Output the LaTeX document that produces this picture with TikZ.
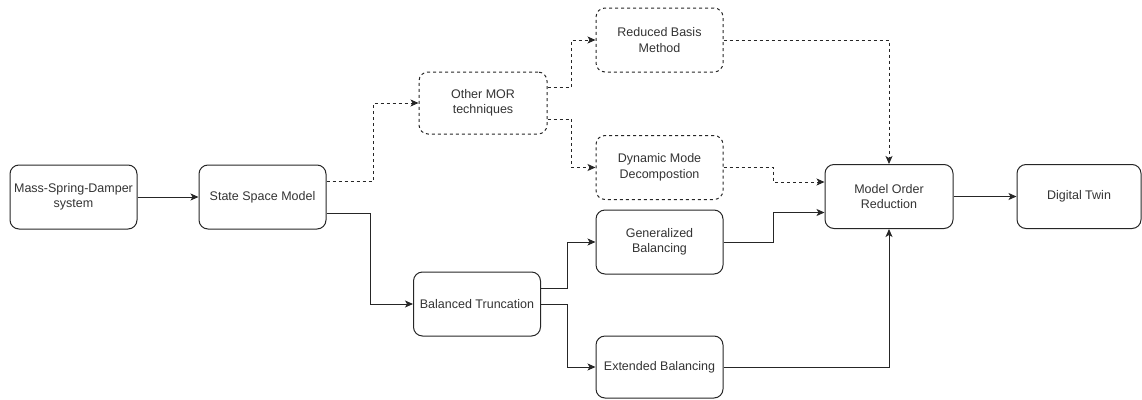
\documentclass[tikz,border=0pt]{standalone}
\usepackage{fontspec}
\setmainfont{Liberation Sans}
\usetikzlibrary{arrows.meta}
\begin{document}
\begin{tikzpicture}[x=1pt,y=-1pt,
  box/.style={draw=black!85, line width=1pt, rounded corners=9pt, minimum width=127pt, minimum height=64pt,
    align=center, inner sep=2pt, font=\fontsize{12.5}{15.5}\selectfont, text=black!80},
  dbox/.style={box, dash pattern=on 3pt off 3pt},
  ln/.style={draw=black!85, line width=1pt, -{Stealth[length=8pt,width=7pt,inset=2pt]}},
  dl/.style={ln, dash pattern=on 3pt off 3pt}]
\useasboundingbox (0,0) rectangle (1142,399);
\node[box] (msd) at (73.5,197) {Mass-Spring-Damper\\system};
\node[box] (ssm) at (262.5,197) {State Space Model};
\node[dbox, minimum height=62pt, minimum width=128pt] (omor) at (483,103) {Other MOR\\techniques};
\node[dbox] (rbm) at (659.5,40) {Reduced Basis\\Method};
\node[dbox] (dmd) at (659.5,167.5) {Dynamic Mode\\Decompostion};
\node[box] (gen) at (659.5,242) {Generalized\\Balancing};
\node[box] (bt) at (477,304) {Balanced Truncation};
\node[box, minimum height=62pt] (ext) at (659.5,367) {Extended Balancing};
\node[box, minimum width=128pt] (mor) at (889,196.5) {Model Order\\Reduction};
\node[box, minimum width=124pt] (dt) at (1079,196.5) {Digital Twin};

\draw[ln] (msd.east) -- (ssm.west);
\draw[dl] ([yshift=16pt]ssm.east) -- ++(47,0) |- (omor.west);
\draw[ln] ([yshift=-16pt]ssm.east) -- ++(44,0) |- (bt.west);
\draw[dl] ([yshift=16pt]omor.east) -- ++(24,0) |- (rbm.west);
\draw[dl] ([yshift=-16pt]omor.east) -- ++(24,0) |- (dmd.west);
\draw[dl] (rbm.east) -| (mor.north);
\draw[dl] (dmd.east) -- ++(50,0) |- ([yshift=14.5pt]mor.west);
\draw[ln] (gen.east) -- ++(50,0) |- ([yshift=-16pt]mor.west);
\draw[ln] (ext.east) -| (mor.south);
\draw[ln] ([yshift=16pt]bt.east) -- ++(26,0) |- (gen.west);
\draw[ln] (bt.east) -- ++(26,0) |- (ext.west);
\draw[ln] (mor.east) -- (dt.west);
\end{tikzpicture}
\end{document}
